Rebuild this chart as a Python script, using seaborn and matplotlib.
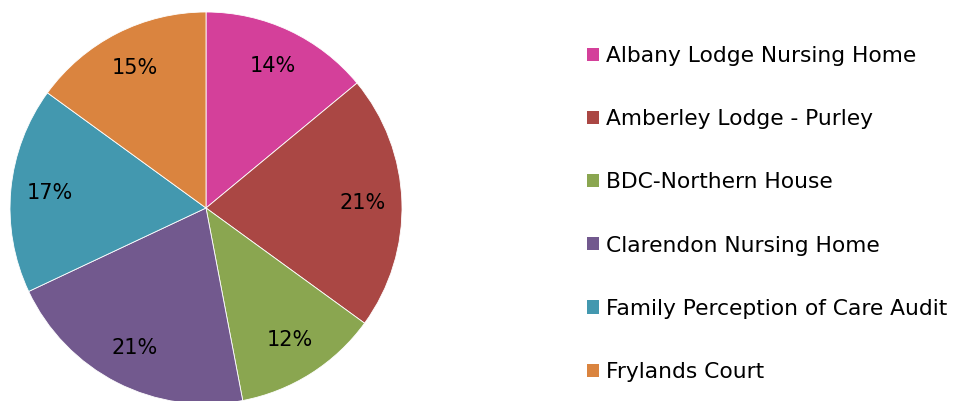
import matplotlib
matplotlib.use("Agg")
import matplotlib.pyplot as plt
import seaborn as sns
from matplotlib.patches import Patch

# data
homes = ["Albany Lodge Nursing Home", "Amberley Lodge - Purley", "BDC-Northern House",
         "Clarendon Nursing Home", "Family Perception of Care Audit", "Frylands Court"]
shares = [14, 21, 12, 21, 17, 15]
colours = ["#D4409A", "#AA4744", "#8AA650", "#72598E", "#4398AF", "#DA843F"]

sns.set_theme(style="white")
plt.rcParams['font.family'] = ['DejaVu Sans']

fig = plt.figure(figsize=(9.55, 4.01), dpi=100)
ax = fig.add_axes([10 / 955, -3 / 401, 392 / 955, 392 / 401])

wedges, texts, autotexts = ax.pie(shares, colors=colours, startangle=90, counterclock=False,
                                  autopct=lambda p: f"{p:.0f}%", pctdistance=0.8,
                                  radius=1, wedgeprops=dict(linewidth=0.6, edgecolor="white"),
                                  textprops=dict(fontsize=15, color="black"))
ax.set_xlim(-1, 1)
ax.set_ylim(-1, 1)
ax.set_aspect("equal")
ax.axis("off")

handles = [Patch(facecolor=c, edgecolor="none") for c in colours]
leg = fig.legend(handles, homes, loc="upper left", bbox_to_anchor=(587 / 955, 1 - 46 / 401),
                 frameon=False, fontsize=15.7, labelspacing=1.98, handlelength=0.55,
                 handleheight=0.55, handletextpad=0.3, borderaxespad=0, borderpad=0)
for t in leg.get_texts():
    t.set_color("black")

fig.savefig("out.png", dpi=100)
